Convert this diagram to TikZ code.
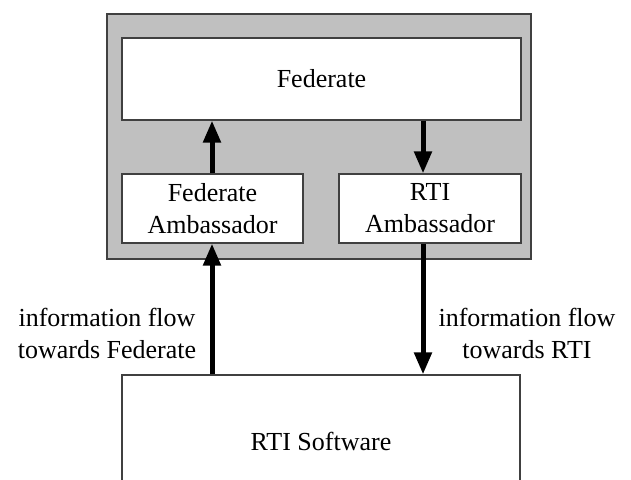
\documentclass[tikz,border=0pt]{standalone}
\usepackage{fontspec}
\setmainfont{Liberation Serif}
\usetikzlibrary{arrows.meta}
\definecolor{panelgray}{HTML}{C0C0C0}
\definecolor{edgegray}{HTML}{404040}
\begin{document}
\begin{tikzpicture}[x=1pt,y=-1pt,
  every node/.style={font=\fontsize{26}{32}\selectfont},
  box/.style={draw=edgegray,line width=1.2pt,fill=white,inner sep=0pt,align=center},
  flow/.style={line width=5pt,-{Triangle[length=22pt,width=17pt]}},
  lbl/.style={align=center,inner sep=0pt}]
\useasboundingbox (0,0) rectangle (631,479);
\clip (0,0) rectangle (631,479);
\fill[white] (0,0) rectangle (631,479);
\node[draw=edgegray,line width=1.2pt,fill=panelgray,minimum width=424pt,minimum height=245pt,inner sep=0pt] (panel) at (319,136.5) {};
\node[box,minimum width=399pt,minimum height=82pt] (fed) at (321.5,79) {Federate};
\node[box,minimum width=181pt,minimum height=69pt] (famb) at (212.5,208.5) {Federate\\Ambassador};
\node[box,minimum width=182pt,minimum height=69pt] (ramb) at (430,208.5) {RTI\\Ambassador};
\node[box,minimum width=398pt,minimum height=160pt] (rti) at (321,455) {};
\node at (321,441) {RTI Software};
\node[lbl] (lleft) at (107,333) {information flow\\towards Federate};
\node[lbl] (lright) at (527,333) {information flow\\towards RTI};
\draw[flow] (famb.north -| 212,0) -- (fed.south -| 212,0);
\draw[flow] (fed.south -| 423,0) -- (ramb.north -| 423,0);
\draw[flow] (rti.north -| 212,0) -- (famb.south -| 212,0);
\draw[flow] (ramb.south -| 423,0) -- (rti.north -| 423,0);
\end{tikzpicture}
\end{document}
